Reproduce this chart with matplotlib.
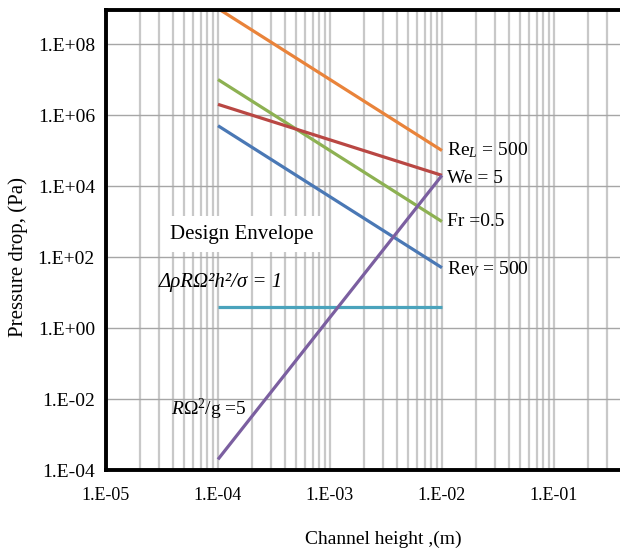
import math
import matplotlib
matplotlib.use('Agg')
import matplotlib.pyplot as plt
from matplotlib.ticker import LogLocator, FuncFormatter, NullFormatter, NullLocator

# channel height end points (m) and pressure drop (Pa)
h = [1e-4, 1e-2]
re_l = [1e9, 1e5]
fr = [1e7, 1e3]
we = [2e6, 2e4]
re_v = [5e5, 50]
surf = [4, 4]
rot = [2e-4, 2e4]

xticks = [1e-5, 1e-4, 1e-3, 1e-2, 1e-1]
yticks = [1e-4, 1e-2, 1e0, 1e2, 1e4, 1e6, 1e8]

plt.rcParams['font.family'] = ['Liberation Serif', 'DejaVu Serif']
plt.rcParams['mathtext.fontset'] = 'custom'
plt.rcParams['mathtext.rm'] = 'Liberation Serif'
plt.rcParams['mathtext.it'] = 'Liberation Serif:italic'

fig = plt.figure(figsize=(6.2, 5.53), dpi=100)
ax = fig.add_axes([0.171, 0.150, 0.829, 0.832])

ax.set_xscale('log')
ax.set_yscale('log')
ax.set_xlim(1e-5, 10**-0.41)
ax.set_ylim(1e-4, 10**8.96)

ax.plot(h, re_l, color='#E9833A', lw=2.3, solid_capstyle='butt')
ax.plot(h, fr, color='#8DB152', lw=2.3, solid_capstyle='butt')
ax.plot(h, we, color='#B94743', lw=2.3, solid_capstyle='butt')
ax.plot(h, re_v, color='#4A78B5', lw=2.3, solid_capstyle='butt')
ax.plot(h, surf, color='#4AA3BC', lw=2.3, solid_capstyle='butt')
ax.plot(h, rot, color='#7B5FA0', lw=2.3, solid_capstyle='butt')

ax.set_xticks(xticks)
ax.xaxis.set_minor_locator(LogLocator(base=10, subs=range(2, 10), numticks=20))
ax.xaxis.set_minor_formatter(NullFormatter())
ax.set_yticks(yticks)
ax.yaxis.set_minor_locator(NullLocator())

def fmt(v, pos):
    e = int(round(math.log10(v)))
    return '1.E%+03d' % e

ax.xaxis.set_major_formatter(FuncFormatter(fmt))
ax.yaxis.set_major_formatter(FuncFormatter(fmt))
ax.tick_params(axis='x', which='both', length=0, labelsize=13, pad=12)
ax.tick_params(axis='y', which='both', length=0, labelsize=14, pad=8)

ax.grid(True, axis='x', which='both', color='#c8c8c8', lw=1.6)
ax.grid(True, axis='y', which='major', color='#a6a6a6', lw=1.0)
ax.set_axisbelow(True)

for s in ['left', 'bottom', 'top']:
    ax.spines[s].set_linewidth(2.8)
    ax.spines[s].set_color('black')
ax.spines['right'].set_visible(False)

ax.text(1.12e-2, 1e5, r'Re$_{\mathit{L}}$ = 500', fontsize=14, va='center', ha='left')
ax.text(1.12e-2, 1.6e4, 'We = 5', fontsize=14, va='center', ha='left')
ax.text(1.12e-2, 1e3, 'Fr =0.5', fontsize=14, va='center', ha='left')
ax.text(1.12e-2, 45, r'Re$_{\mathit{V}}$ = 500', fontsize=14, va='center', ha='left')
ax.text(3.7e-5, 443, 'Design Envelope', fontsize=15, va='center', ha='left',
        bbox=dict(facecolor='white', edgecolor='none', pad=6))
ax.text(2.95e-5, 19, '\u0394\u03c1R\u03a9\u00b2h\u00b2/\u03c3 = 1', fontsize=15,
        va='center', ha='left', style='italic')
ax.text(3.8e-5, 5e-3, r'$R\Omega^2$/g =5', fontsize=14, va='center', ha='left')

fig.text(0.618, 0.024, 'Channel height ,(m)', fontsize=14, ha='center', va='center')
fig.text(0.029, 0.535, 'Pressure drop, (Pa)', fontsize=15, ha='center', va='center',
         rotation=90)

fig.savefig('out.png', dpi=100)
